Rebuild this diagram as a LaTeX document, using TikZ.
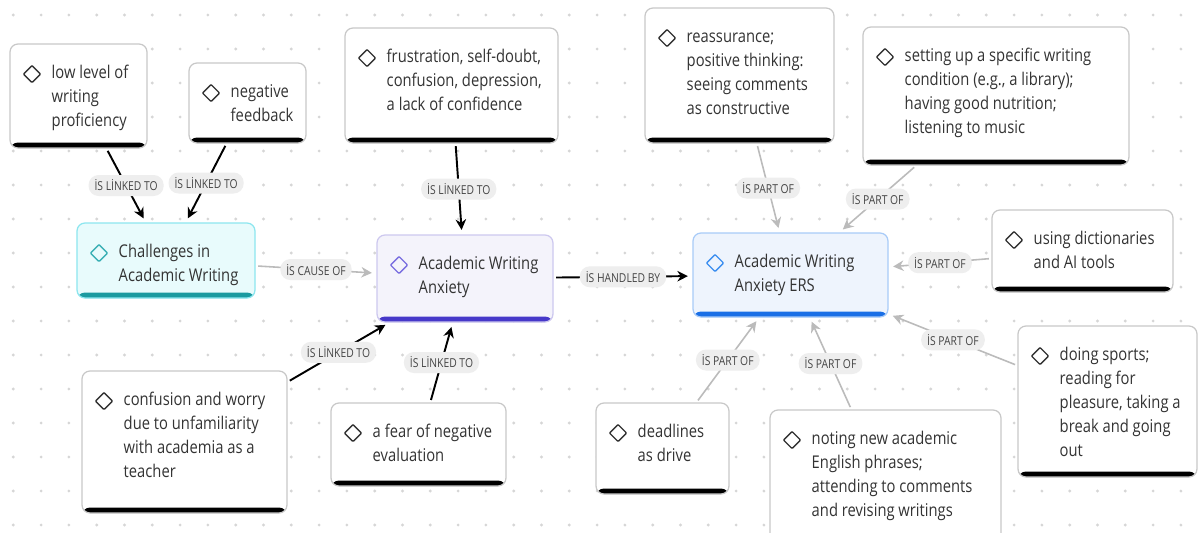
\documentclass[tikz,border=0pt]{standalone}
\usepackage{fontspec}
\setmainfont{Open Sans}[FakeStretch=0.84]
\usetikzlibrary{fit,arrows.meta}

\definecolor{boxline}{HTML}{C8C8C8}
\definecolor{txtc}{HTML}{333333}
\definecolor{tagc}{HTML}{EEEEEE}
\definecolor{tagtxt}{HTML}{444444}
\definecolor{partc}{HTML}{BBBBBB}
\definecolor{dotc}{HTML}{D6D6D6}
\definecolor{chalfill}{HTML}{E8FBFC}
\definecolor{challine}{HTML}{8CE6EF}
\definecolor{chalbar}{HTML}{1B9AA0}
\definecolor{chalicon}{HTML}{3BB0B5}
\definecolor{awafill}{HTML}{F4F3FB}
\definecolor{awaline}{HTML}{CDC8EF}
\definecolor{awabar}{HTML}{4638C9}
\definecolor{awaicon}{HTML}{7A6EE0}
\definecolor{ersfill}{HTML}{EEF4FD}
\definecolor{ersline}{HTML}{A8CBF8}
\definecolor{ersbar}{HTML}{1A6FE6}
\definecolor{ersicon}{HTML}{3D8FF0}

\tikzset{
  idea/.style n args={4}{rectangle, rounded corners=0.16cm, draw=#1, fill=#2,
    line width=0.7pt, inner sep=0pt,
    path picture={
      \fill[#3] ([yshift=0.11cm]path picture bounding box.south west)
        rectangle (path picture bounding box.south east);
      \draw[#4, line width=0.8pt, rounded corners=0.5pt]
        ([shift={(13.5,30)}]path picture bounding box.north west)
        -- ++(8.5,-8.5) -- ++(8.5,8.5) -- ++(-8.5,8.5) -- cycle;
    }},
  note/.style={idea={boxline}{white}{black}{black!80}},
  txt/.style={align=left, inner sep=0pt, text=txtc, anchor=north west,
    font=\fontsize{10}{13.6}\selectfont},
  tag/.style={fill=tagc, rounded corners=0.2cm, inner xsep=0.12cm,
    inner ysep=0pt, minimum height=0.42cm, text=tagtxt,
    font=\fontsize{7}{8}\selectfont},
  linked/.style={draw=black, line width=1.1pt, shorten <=0.05cm, shorten >=0.09cm,
    -{Stealth[length=6pt,width=6pt]}},
  partof/.style={draw=partc, line width=0.9pt, shorten <=0.05cm, shorten >=0.09cm,
    -{Stealth[length=6pt,width=6pt]}},
}

\begin{document}
\begin{tikzpicture}[x=0.02cm, y=-0.02cm]
  \useasboundingbox (0,0) rectangle (1204,532);
  \clip (0,0) rectangle (1204,532);
  \fill[white] (0,0) rectangle (1204,532);
  % dotted canvas
  \foreach \i in {0,...,43}
    \foreach \j in {0,...,15}
      \fill[dotc] (13.3+27.8*\i, 15+34*\j) circle (0.9pt);

  % central concepts
  \node[idea={challine}{chalfill}{chalbar}{chalicon}, fit={(77,223) (255,298)}] (chal) {};
  \node[idea={awaline}{awafill}{awabar}{awaicon}, fit={(377,235) (553,322)}] (awa) {};
  \node[idea={ersline}{ersfill}{ersbar}{ersicon}, fit={(693,233) (888,317)}] (ers) {};

  % notes
  \node[note, fit={(10,44) (147,148)}] (low) {};
  \node[note, fit={(189,63) (306,143)}] (negfb) {};
  \node[note, fit={(345,28) (558,143)}] (frust) {};
  \node[note, fit={(82,371) (287,513)}] (worry) {};
  \node[note, fit={(331,403) (506,486)}] (fear) {};
  \node[note, fit={(645,8) (834,143)}] (reass) {};
  \node[note, fit={(863,27) (1129,165)}] (setup) {};
  \node[note, fit={(992,210) (1173,292)}] (dict) {};
  \node[note, fit={(1018,326) (1197,477)}] (sports) {};
  \node[note, fit={(770,410) (1001,560)}] (noting) {};
  \node[note, fit={(596,403) (729,494)}] (dead) {};

  % texts (first baseline 35px below the top edge)
  \node[txt] (chal-t) at ([shift={(42,18)}]chal.north west) {\strut Challenges in\\Academic Writing};
  \node[txt] (awa-t) at ([shift={(42,18)}]awa.north west) {\strut Academic Writing\\Anxiety};
  \node[txt] (ers-t) at ([shift={(42,18)}]ers.north west) {\strut Academic Writing\\Anxiety ERS};
  \node[txt] (low-t) at ([shift={(42,18)}]low.north west) {\strut low level of\\writing\\proficiency};
  \node[txt] (negfb-t) at ([shift={(42,18)}]negfb.north west) {\strut negative\\feedback};
  \node[txt] (frust-t) at ([shift={(42,18)}]frust.north west) {\strut frustration, self-doubt,\\confusion, depression,\\a lack of confidence};
  \node[txt] (worry-t) at ([shift={(42,18)}]worry.north west) {\strut confusion and worry\\due to unfamiliarity\\with academia as a\\teacher};
  \node[txt] (fear-t) at ([shift={(42,18)}]fear.north west) {\strut a fear of negative\\evaluation};
  \node[txt] (reass-t) at ([shift={(42,18)}]reass.north west) {\strut reassurance;\\positive thinking:\\seeing comments\\as constructive};
  \node[txt] (setup-t) at ([shift={(42,18)}]setup.north west) {\strut setting up a specific writing\\condition (e.g., a library);\\having good nutrition;\\listening to music};
  \node[txt] (dict-t) at ([shift={(42,18)}]dict.north west) {\strut using dictionaries\\and AI tools};
  \node[txt] (sports-t) at ([shift={(42,18)}]sports.north west) {\strut doing sports;\\reading for\\pleasure, taking a\\break and going\\out};
  \node[txt] (noting-t) at ([shift={(42,18)}]noting.north west) {\strut noting new academic\\English phrases;\\attending to comments\\and revising writings};
  \node[txt] (dead-t) at ([shift={(42,18)}]dead.north west) {\strut deadlines\\as drive};

  % connectors
  \draw[linked] (low) -- node[tag] (l1) {İS LİNKED TO} (chal);
  \draw[linked] (negfb) -- node[tag] (l2) {İS LİNKED TO} (chal);
  \draw[partof] (chal) -- node[tag] (l3) {İS CAUSE OF} (awa);
  \draw[linked] (frust) -- node[tag] (l4) {İS LİNKED TO} (awa);
  \draw[linked] (worry) -- node[tag] (l5) {İS LİNKED TO} (awa);
  \draw[linked] (fear) -- node[tag] (l6) {İS LİNKED TO} (awa);
  \draw[linked] (awa) -- node[tag] (l7) {İS HANDLED BY} (ers);
  \draw[partof] (reass) -- node[tag] (l8) {İS PART OF} (ers);
  \draw[partof] (setup) -- node[tag] (l9) {İS PART OF} (ers);
  \draw[partof] (dict) -- node[tag] (l10) {İS PART OF} (ers);
  \draw[partof] (sports) -- node[tag] (l11) {İS PART OF} (ers);
  \draw[partof] (noting) -- node[tag] (l12) {İS PART OF} (ers);
  \draw[partof] (dead) -- node[tag] (l13) {İS PART OF} (ers);
\end{tikzpicture}
\end{document}
